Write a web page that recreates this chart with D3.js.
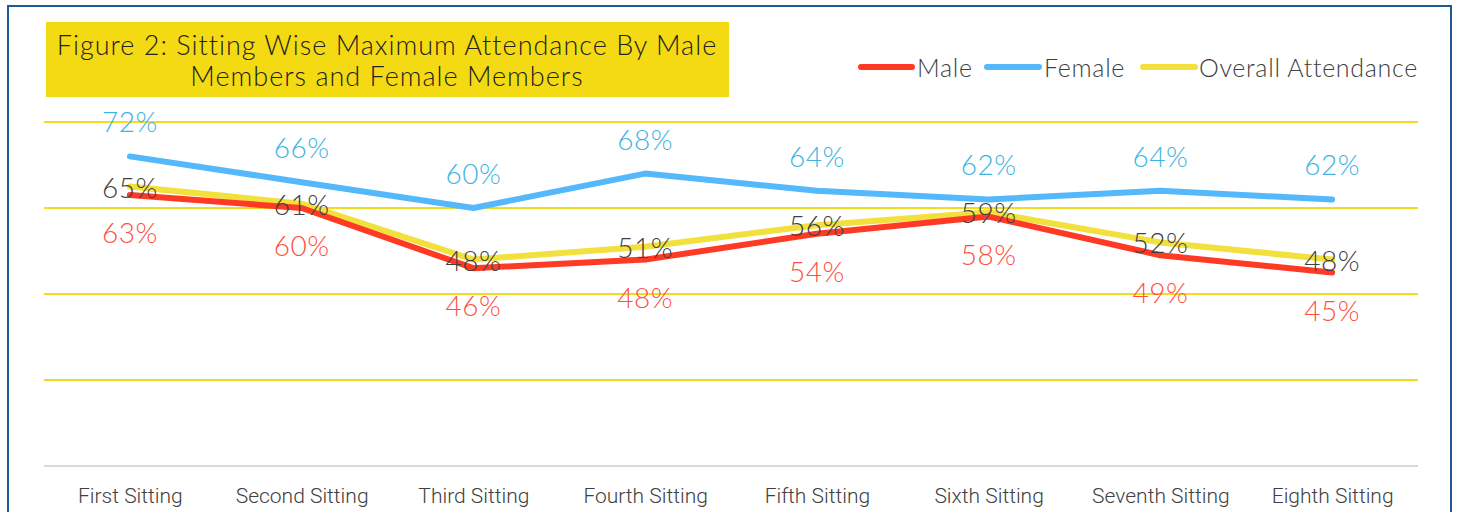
<!DOCTYPE html>
<html><head><meta charset="utf-8">
<script src="https://cdn.jsdelivr.net/npm/d3@7"></script>
<style>html,body{margin:0;padding:0;background:#fff;overflow:hidden}</style>
</head><body>
<svg id="c" width="1458" height="512"></svg>
<script>
const categories = ["First Sitting","Second Sitting","Third Sitting","Fourth Sitting","Fifth Sitting","Sixth Sitting","Seventh Sitting","Eighth Sitting"];
const male = [63,60,46,48,54,58,49,45];
const female = [72,66,60,68,64,62,64,62];
const overall = [65,61,48,51,56,59,52,48];
const gridTicks = [0,20,40,60,80];
const titleLines = ["Figure 2: Sitting Wise Maximum Attendance By Male","Members and Female Members"];
const seriesNames = ["Male","Female","Overall Attendance"];

const svg = d3.select("#c");
const labelFont = "Lato, 'Open Sans', sans-serif";
const axisFont = "Roboto, 'Liberation Sans', sans-serif";

// border
svg.append("rect").attr("x",8).attr("y",6).attr("width",1443).attr("height",540)
  .attr("fill","none").attr("stroke","#1F5A94").attr("stroke-width",2);

const x = d3.scalePoint().domain(categories).range([44,1418]).padding(0.5);
const y = d3.scaleLinear().domain([0,100]).range([466,36]);

// gridlines
svg.append("g").selectAll("line").data(gridTicks.filter(d=>d>0)).join("line")
  .attr("x1",44).attr("x2",1418).attr("y1",d=>y(d)).attr("y2",d=>y(d))
  .attr("stroke","#F3DC1F").attr("stroke-width",2);

// x axis
const xAxis = svg.append("g").attr("transform",`translate(0,${y(0)})`)
  .call(d3.axisBottom(x).tickSize(0).tickPadding(22));
xAxis.select(".domain").attr("stroke","#D9D9D9").attr("stroke-width",2)
  .attr("d","M44,0H1418");
xAxis.selectAll("text").attr("font-family",axisFont).attr("font-weight",300)
  .attr("font-size",21).attr("fill","#404040");

const series = [
  {name:seriesNames[0], values:male, color:"#FF3A24", label:"#FF4F3F", dy:37},
  {name:seriesNames[1], values:female, color:"#55B8FA", label:"#3FB3E3", dy:-35},
  {name:seriesNames[2], values:overall, color:"#F2E03C", label:"#404040", dy:0}
];

const line = d3.line().x((d,i)=>x(categories[i])).y(d=>y(d));
[series[2], series[1], series[0]].forEach(s=>{
  svg.append("path").datum(s.values).attr("d",line).attr("fill","none")
    .attr("stroke",s.color).attr("stroke-width",6).attr("stroke-linecap","round").attr("stroke-linejoin","round");
});

series.forEach(s=>{
  svg.append("g").selectAll("text").data(s.values).join("text")
    .attr("x",(d,i)=>x(categories[i])).attr("y",d=>y(d)+s.dy)
    .attr("text-anchor","middle").attr("dominant-baseline","central")
    .attr("font-family",labelFont).attr("font-weight",300).attr("font-size",28)
    .attr("letter-spacing",0.5)
    .attr("fill",s.label).text(d=>d+"%");
});

// title box
svg.append("rect").attr("x",46).attr("y",22).attr("width",683).attr("height",75).attr("fill","#F4DA12");
svg.append("g").selectAll("text").data(titleLines).join("text")
  .attr("x",387).attr("y",(d,i)=>55+i*31).attr("text-anchor","middle")
  .attr("font-family",labelFont).attr("font-weight",300).attr("font-size",27)
  .attr("letter-spacing",1)
  .attr("fill","#222").text(d=>d);

// legend
const legendItems = [
  {s:series[0], x1:861, x2:912, tx:917},
  {s:series[1], x1:987, x2:1039, tx:1044},
  {s:series[2], x1:1143, x2:1195, tx:1199}
];
const lg = svg.append("g");
legendItems.forEach(it=>{
  lg.append("line").attr("x1",it.x1).attr("x2",it.x2).attr("y1",67).attr("y2",67)
    .attr("stroke",it.s.color).attr("stroke-width",6).attr("stroke-linecap","round");
  lg.append("text").attr("x",it.tx).attr("y",67).attr("dominant-baseline","central")
    .attr("font-family",labelFont).attr("font-weight",300).attr("font-size",25)
    .attr("letter-spacing",0.7)
    .attr("fill","#404040").text(it.s.name);
});
</script>
</body></html>
